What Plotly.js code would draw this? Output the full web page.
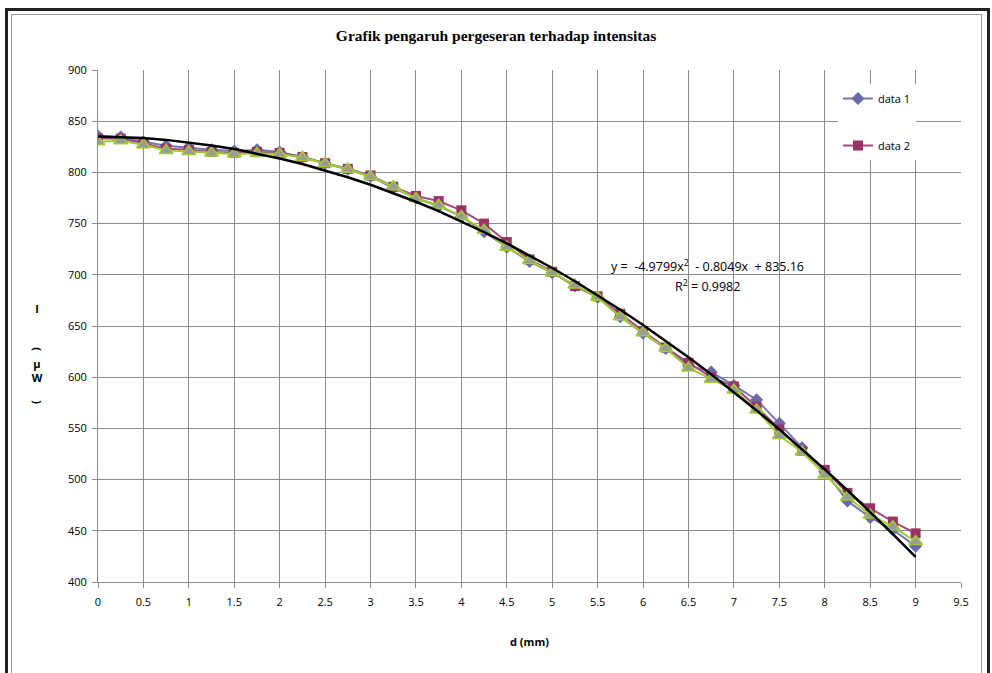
<!DOCTYPE html>
<html>
<head>
<meta charset="utf-8">
<script src="https://cdn.plot.ly/plotly-3.0.1.min.js"></script>
<style>
  html, body { margin: 0; padding: 0; background: #fff; overflow: hidden; }
  #chart { width: 992px; height: 673px; position: absolute; left: 0; top: 0; }
  #frameOuter { position: absolute; left: 5px; top: 8px; width: 979px; height: 700px; border: 3px solid #222; pointer-events: none; }
  #frameInner { position: absolute; left: 11px; top: 14px; width: 969px; height: 700px; border: 1px solid #999; pointer-events: none; }
  .yt { position: absolute; font-family: "Open Sans", "Noto Sans", sans-serif; font-weight: bold; font-size: 11px;
        color: #000; width: 20px; height: 16px; line-height: 16px; text-align: center; margin-left: -10px; margin-top: -8px; }
  .rot { transform: rotate(90deg); }
</style>
</head>
<body>
<div id="chart"></div>
<div id="frameOuter"></div>
<div id="frameInner"></div>
<div id="ytitle"></div>
<script>
// distance d (mm)
const d = [0, 0.25, 0.5, 0.75, 1, 1.25, 1.5, 1.75, 2, 2.25, 2.5, 2.75, 3, 3.25, 3.5, 3.75, 4, 4.25, 4.5, 4.75,
           5, 5.25, 5.5, 5.75, 6, 6.25, 6.5, 6.75, 7, 7.25, 7.5, 7.75, 8, 8.25, 8.5, 8.75, 9];

const data1 = [835.5, 834.5, 830, 826, 824, 822, 821, 822, 820, 815, 809, 803, 796, 785, 775, 767, 757, 742, 727, 713,
               702, 689, 678, 659, 643, 628, 612, 605, 592, 578, 555, 531, 508, 479, 463, 451, 435];

const data2 = [833, 833, 828.5, 823, 822, 820, 819, 820, 819, 815, 809, 803.5, 797, 786, 777, 772, 763, 750, 732, 715,
               703, 689, 679, 662, 645, 629, 614, 600, 591, 571, 549, 528, 509.5, 487, 472, 459, 447.5];

const data3 = [830, 831, 827, 821.5, 820.5, 819, 818, 818.5, 818, 814.5, 808.5, 803, 796, 786, 774.5, 768, 757, 743.5, 727, 714,
               702, 690, 678, 659, 643.5, 628, 609, 598, 587.5, 568, 543, 527, 504.5, 483, 465.5, 454, 439.5];

// polynomial trendline values (y = -4.9799x^2 - 0.8049x + 835.16)
const trendY = [835.16, 834.65, 833.51, 831.76, 829.38, 826.37, 822.75, 818.50, 813.63, 808.14, 802.02, 795.29, 787.93, 779.94,
                771.34, 762.11, 752.26, 741.79, 730.70, 718.98, 706.64, 693.68, 680.09, 665.88, 651.05, 635.60, 619.53,
                602.83, 585.51, 567.57, 549.00, 529.82, 510.01, 489.57, 468.52, 446.84, 424.54];

const seriesNames = ["data 1", "data 2", "data 3"];
const chartTitle = "Grafik pengaruh pergeseran terhadap intensitas";
const xTitle = "d (mm)";
const yTitleChars = ["I", "(", "µ", "W", ")"];
const eqText = "y =  -4.9799x<sup>2</sup>  - 0.8049x  + 835.16";
const r2Text = "R<sup>2</sup> = 0.9982";
const xTicks = [0, 0.5, 1, 1.5, 2, 2.5, 3, 3.5, 4, 4.5, 5, 5.5, 6, 6.5, 7, 7.5, 8, 8.5, 9, 9.5];
const yTicks = [400, 450, 500, 550, 600, 650, 700, 750, 800, 850, 900];

const fontSans = "Open Sans, Noto Sans, sans-serif";

const traces = [
  {
    x: d, y: data1, name: seriesNames[0], type: "scatter", mode: "lines+markers",
    line: { color: "#7474b0", width: 2 },
    marker: { symbol: "diamond", size: 10, color: "#6a6aa8", line: { width: 0 } },
    legendgroup: "g1"
  },
  {
    x: d, y: data2, name: seriesNames[1], type: "scatter", mode: "lines+markers",
    line: { color: "#a84a7c", width: 2 },
    marker: { symbol: "square", size: 10, color: "#993366", line: { width: 0 } },
    legendgroup: "g2"
  },
  {
    x: d, y: data3, name: seriesNames[2], type: "scatter", mode: "lines+markers",
    line: { color: "#9fcc33", width: 2 },
    marker: { symbol: "triangle-up", size: 12, color: "#999999", line: { color: "#9fcc33", width: 1.5 } },
    showlegend: false, legendgroup: "g3"
  },
  {
    x: d, y: trendY, name: "trend", type: "scatter", mode: "lines",
    line: { color: "#000000", width: 2.5 },
    showlegend: false, hoverinfo: "skip"
  }
];

const plotTop = 70, plotBottom = 582, plotLeft = 98, plotRight = 961;

// stacked y-axis title (Excel stacked text), parentheses drawn turned
const ytPos = [309, 349, 364, 378, 402];
const ytBox = document.getElementById("ytitle");
yTitleChars.forEach((c, i) => {
  const s = document.createElement("div");
  s.className = "yt" + ((c === "(" || c === ")") ? " rot" : "");
  s.style.left = "37px";
  s.style.top = ytPos[i] + "px";
  s.textContent = c;
  ytBox.appendChild(s);
});

const ann = [];
ann.push({ text: eqText, x: 6.71, y: 708.5, xref: "x", yref: "y", showarrow: false,
  xanchor: "center", yanchor: "middle", font: { family: fontSans, size: 12.5, color: "#000" } });
ann.push({ text: r2Text, x: 6.71, y: 689, xref: "x", yref: "y", showarrow: false,
  xanchor: "center", yanchor: "middle", font: { family: fontSans, size: 12.5, color: "#000" } });

const layout = {
  width: 992, height: 673,
  margin: { l: plotLeft, r: 992 - plotRight, t: plotTop, b: 673 - plotBottom, pad: 0 },
  paper_bgcolor: "#ffffff", plot_bgcolor: "#ffffff",
  title: { text: "<b>" + chartTitle + "</b>", x: 0.5, xref: "container", xanchor: "center",
           y: 1 - 36 / 673, yref: "container", yanchor: "middle",
           font: { family: "Liberation Serif, Times New Roman, serif", size: 15.5, color: "#000" } },
  xaxis: {
    range: [0, 9.5], tickvals: xTicks, ticktext: xTicks.map(String),
    showgrid: true, gridcolor: "#8c8c8c", gridwidth: 1,
    showline: true, linecolor: "#8c8c8c", linewidth: 1, mirror: false,
    ticks: "outside", ticklen: 5, tickcolor: "#8c8c8c", ticklabelstandoff: 5,
    tickfont: { family: fontSans, size: 11, color: "#000" },
    zeroline: false,
    title: { text: "<b>" + xTitle + "</b>", standoff: 30, font: { family: fontSans, size: 11, color: "#000" } }
  },
  yaxis: {
    range: [400, 900], tickvals: yTicks,
    showgrid: true, gridcolor: "#8c8c8c", gridwidth: 1,
    showline: true, linecolor: "#8c8c8c", linewidth: 1,
    ticks: "outside", ticklen: 5, tickcolor: "#8c8c8c", ticklabelstandoff: 3,
    tickfont: { family: fontSans, size: 11, color: "#000" },
    zeroline: false
  },
  showlegend: true,
  legend: {
    x: (838 - plotLeft) / (plotRight - plotLeft), xanchor: "left",
    y: (plotBottom - 84) / (plotBottom - plotTop), yanchor: "top",
    bgcolor: "#ffffff", borderwidth: 0, itemwidth: 30, tracegroupgap: 28,
    font: { family: fontSans, size: 11, color: "#000" }
  },
  annotations: ann
};

Plotly.newPlot("chart", traces, layout, { displayModeBar: false, staticPlot: true });
</script>
</body>
</html>
